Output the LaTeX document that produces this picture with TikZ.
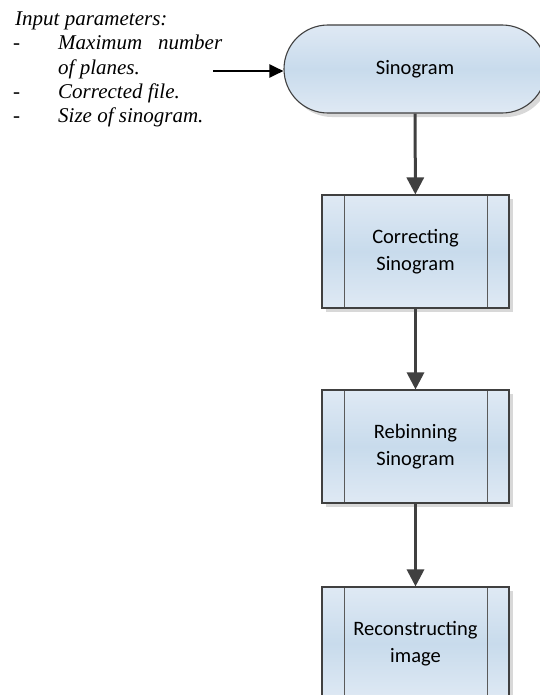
\documentclass[tikz,border=0pt]{standalone}
\usepackage{fontspec}
\setmainfont{Liberation Serif}
\newfontfamily\boxfont{Carlito}
\usetikzlibrary{arrows.meta,shadows}

\definecolor{edgegray}{HTML}{404040}
\definecolor{innergray}{HTML}{5A5A5A}
\definecolor{fillhi}{HTML}{DFE9F4}
\definecolor{fillmid}{HTML}{C8DBEC}
\definecolor{shadowgray}{HTML}{D8D8D8}

\tikzset{
  flowfill/.style={draw=edgegray, line width=1.1bp,
    top color=fillhi, bottom color=fillhi, middle color=fillmid,
    drop shadow={shadow xshift=4bp, shadow yshift=-4bp, fill=shadowgray, opacity=1}},
  terminal/.style={flowfill, rounded corners=44bp, minimum width=262bp,
    minimum height=88bp, inner sep=0pt,
    font=\boxfont\fontsize{20.5bp}{27bp}\selectfont},
  procbox/.style={flowfill, minimum width=187bp, minimum height=113bp,
    inner sep=0pt, align=center,
    font=\boxfont\fontsize{20.5bp}{27bp}\selectfont,
    path picture={
      \draw[innergray, line width=1bp]
        ([xshift=22bp]path picture bounding box.north west) --
        ([xshift=22bp]path picture bounding box.south west);
      \draw[innergray, line width=1bp]
        ([xshift=-22bp]path picture bounding box.north east) --
        ([xshift=-22bp]path picture bounding box.south east);
    }},
  flowarrow/.style={draw=edgegray, line width=3bp,
    -{Triangle[length=17bp, width=17bp]}},
  inputarrow/.style={draw=black, line width=2bp,
    -{Triangle[length=14bp, width=13bp]}},
  paramtext/.style={anchor=base west, inner sep=0pt,
    font=\fontsize{21bp}{24bp}\selectfont\itshape},
}

\begin{document}
\begin{tikzpicture}[x=1bp, y=-1bp]
  \useasboundingbox (0,0) rectangle (540,695);
  \clip (0,0) rectangle (540,695);
  \fill[white] (0,0) rectangle (540,695);

  % flowchart steps
  \node[terminal] (sino) at (415,69) {Sinogram};
  \node[procbox] (corr) at (415.5,251.5) {Correcting\\Sinogram};
  \node[procbox] (rebin) at (415.5,446.5) {Rebinning\\Sinogram};
  \node[procbox] (recon) at (415.5,643.5) {Reconstructing\\image};

  % connectors between steps
  \draw[flowarrow] (sino) -- (corr);
  \draw[flowarrow] (corr) -- (rebin);
  \draw[flowarrow] (rebin) -- (recon);

  % list of input parameters
  \node[paramtext] (ptitle) at (15,26) {Input parameters:};
  \node[paramtext] (pdash1) at (13,50) {-};
  \node[paramtext] (pitem1) at (58,50) {\makebox[164bp][s]{Maximum number}};
  \node[paramtext] (pitem1b) at (58,75) {of planes.};
  \node[paramtext] (pdash2) at (13,99) {-};
  \node[paramtext] (pitem2) at (58,99) {Corrected file.};
  \node[paramtext] (pdash3) at (13,123) {-};
  \node[paramtext] (pitem3) at (58,123) {Size of sinogram.};

  % parameters feed the first step
  \coordinate (inarrow) at (213,71);
  \draw[inputarrow] (inarrow) -- (inarrow -| sino.west);
\end{tikzpicture}
\end{document}
